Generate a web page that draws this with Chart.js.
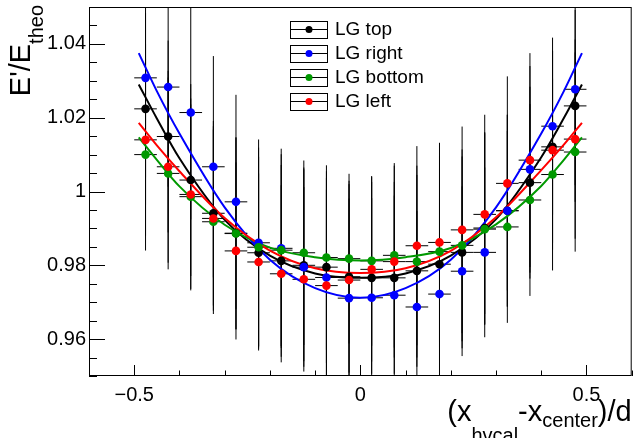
<!DOCTYPE html>
<html>
<head>
<meta charset="utf-8">
<script src="https://cdn.jsdelivr.net/npm/chart.js@4.4.0/dist/chart.umd.min.js"></script>
<style>
  html, body { margin: 0; padding: 0; background: #fff; }
  canvas { display: block; }
</style>
</head>
<body>
<canvas id="c" width="636" height="438"></canvas>
<script>
// Bin centres of (x_hvcal - x_center)/d and the half bin width
const binCenters = [-0.475, -0.425, -0.375, -0.325, -0.275, -0.225, -0.175, -0.125, -0.075, -0.025,
                     0.025,  0.075,  0.125,  0.175,  0.225,  0.275,  0.325,  0.375,  0.425,  0.475];
const binHalfWidth = 0.025;

// E'/E_theo per bin for each LG side
const lgTop    = [1.0224, 1.0149, 1.0031, 0.9941, 0.9887, 0.9834, 0.9812, 0.9800, 0.9795, 0.9769,
                  0.9766, 0.9766, 0.9785, 0.9803, 0.9835, 0.9901, 0.9948, 1.0024, 1.0121, 1.0232];
const lgRight  = [1.0308, 1.0283, 1.0214, 1.0067, 0.9972, 0.9861, 0.9846, 0.9795, 0.9767, 0.9711,
                  0.9712, 0.9719, 0.9687, 0.9722, 0.9784, 0.9835, 0.9948, 1.0060, 1.0177, 1.0277];
const lgBottom = [1.0100, 1.0049, 0.9986, 0.9918, 0.9886, 0.9849, 0.9841, 0.9834, 0.9821, 0.9818,
                  0.9812, 0.9827, 0.9810, 0.9837, 0.9854, 0.9898, 0.9904, 0.9977, 1.0046, 1.0107];
const lgLeft   = [1.0140, 1.0067, 0.9992, 0.9927, 0.9839, 0.9809, 0.9777, 0.9762, 0.9745, 0.9760,
                  0.9789, 0.9810, 0.9853, 0.9862, 0.9896, 0.9938, 1.0022, 1.0085, 1.0112, 1.0142];

// Vertical errors per bin
const errTop    = [0.026, 0.026, 0.026, 0.025, 0.026, 0.026, 0.026, 0.026, 0.026, 0.026,
                   0.026, 0.026, 0.026, 0.026, 0.026, 0.026, 0.026, 0.026, 0.026, 0.026];
const errRight  = [0.027, 0.027, 0.029, 0.030, 0.029, 0.028, 0.027, 0.027, 0.027, 0.027,
                   0.027, 0.027, 0.026, 0.026, 0.023, 0.023, 0.026, 0.028, 0.024, 0.026];
const errBottom = [0.026, 0.026, 0.025, 0.025, 0.026, 0.027, 0.026, 0.025, 0.025, 0.023,
                   0.023, 0.025, 0.026, 0.026, 0.026, 0.026, 0.026, 0.026, 0.026, 0.027];
const errLeft   = [0.026, 0.026, 0.026, 0.025, 0.024, 0.024, 0.024, 0.025, 0.026, 0.026,
                   0.025, 0.026, 0.027, 0.027, 0.028, 0.027, 0.029, 0.029, 0.027, 0.027];

// Fitted curves, sampled along x
const fitX      = [-0.49, -0.45, -0.4, -0.3, -0.2, -0.1, 0, 0.1, 0.2, 0.3, 0.4, 0.45, 0.49];
const fitTop    = [1.0290, 1.0198, 1.0090, 0.9923, 0.9826, 0.9778, 0.9766, 0.9778, 0.9826, 0.9925, 1.0093, 1.0199, 1.0290];
const fitRight  = [1.0375, 1.0272, 1.0157, 0.9957, 0.9815, 0.9738, 0.9712, 0.9738, 0.9815, 0.9957, 1.0157, 1.0272, 1.0375];
const fitBottom = [1.0147, 1.0086, 1.0014, 0.9910, 0.9848, 0.9822, 0.9813, 0.9822, 0.9847, 0.9911, 1.0015, 1.0086, 1.0147];
const fitLeft   = [1.0186, 1.0125, 1.0055, 0.9928, 0.9840, 0.9792, 0.9779, 0.9792, 0.9839, 0.9930, 1.0058, 1.0127, 1.0186];

// Axis ticks and labels
const xTickValues = [-0.5, 0, 0.5];
const xTickLabels = ['\u22120.5', '0', '0.5'];
const yTickValues = [0.96, 0.98, 1, 1.02, 1.04];
const yTickLabels = ['0.96', '0.98', '1', '1.02', '1.04'];

const seriesNames  = ['LG top', 'LG right', 'LG bottom', 'LG left'];
const seriesColors = ['#000000', '#0000ff', '#009900', '#ff0000'];

const FONT = '"Liberation Sans", Arial, Helvetica, sans-serif';

const series = [
  { name: seriesNames[0], color: seriesColors[0], values: lgTop,    errors: errTop,    fit: fitTop },
  { name: seriesNames[1], color: seriesColors[1], values: lgRight,  errors: errRight,  fit: fitRight },
  { name: seriesNames[2], color: seriesColors[2], values: lgBottom, errors: errBottom, fit: fitBottom },
  { name: seriesNames[3], color: seriesColors[3], values: lgLeft,   errors: errLeft,   fit: fitLeft }
];

const datasets = [];
series.forEach((s, k) => {
  datasets.push({
    label: s.name,
    isPoints: true,
    errors: s.errors,
    data: s.values.map((v, i) => ({ x: binCenters[i], y: v })),
    showLine: false,
    pointRadius: 4.3,
    pointBackgroundColor: s.color,
    pointBorderColor: s.color,
    pointBorderWidth: 0,
    order: 10 - k
  });
  datasets.push({
    label: s.name + ' fit',
    data: s.fit.map((v, i) => ({ x: fitX[i], y: v })),
    showLine: true,
    borderColor: s.color,
    borderWidth: 2,
    pointRadius: 0,
    cubicInterpolationMode: 'monotone',
    order: 20 - k
  });
});

// Error bars: horizontal bin width and vertical error, drawn in black
const errorBarPlugin = {
  id: 'errorBars',
  beforeDatasetsDraw(chart) {
    const { ctx, chartArea: a } = chart;
    const xs = chart.scales.x, ys = chart.scales.y;
    ctx.save();
    ctx.beginPath();
    ctx.rect(a.left, a.top, a.right - a.left, a.bottom - a.top);
    ctx.clip();
    ctx.strokeStyle = '#000';
    ctx.lineWidth = 1;
    chart.data.datasets.forEach(ds => {
      if (!ds.isPoints) return;
      ds.data.forEach((p, i) => {
        const px = xs.getPixelForValue(p.x);
        const py = ys.getPixelForValue(p.y);
        const xl = xs.getPixelForValue(p.x - binHalfWidth);
        const xr = xs.getPixelForValue(p.x + binHalfWidth);
        const yt = ys.getPixelForValue(p.y + ds.errors[i]);
        const yb = ys.getPixelForValue(p.y - ds.errors[i]);
        ctx.beginPath();
        ctx.moveTo(xl, py); ctx.lineTo(xr, py);
        ctx.moveTo(px, yt); ctx.lineTo(px, yb);
        ctx.stroke();
      });
    });
    ctx.restore();
  }
};

// Frame with inward ticks, axis titles and the legend box
const framePlugin = {
  id: 'frame',
  afterDraw(chart) {
    const { ctx, chartArea: a } = chart;
    const xs = chart.scales.x, ys = chart.scales.y;
    ctx.save();
    ctx.strokeStyle = '#000';
    ctx.lineWidth = 1;
    ctx.strokeRect(a.left + 0.5, a.top + 0.5, a.right - a.left - 1, a.bottom - a.top - 1);

    // y ticks: minor every 0.005, major at labelled values
    ctx.beginPath();
    for (let k = 0; k <= 20; k++) {
      const v = ys.min + k * 0.005;
      const major = yTickValues.some(t => Math.abs(t - v) < 1e-9);
      const py = Math.round(ys.getPixelForValue(v)) + 0.5;
      ctx.moveTo(a.left, py);
      ctx.lineTo(a.left + (major ? 16 : 8), py);
    }
    // x ticks: minor every 0.1, major at labelled values
    for (let k = 0; k <= 12; k++) {
      const v = xs.min + k * 0.1;
      const major = xTickValues.some(t => Math.abs(t - v) < 1e-9);
      const px = Math.round(xs.getPixelForValue(v)) + 0.5;
      ctx.moveTo(px, a.bottom);
      ctx.lineTo(px, a.bottom - (major ? 11 : 5.5));
    }
    ctx.stroke();

    ctx.fillStyle = '#000';
    ctx.textBaseline = 'alphabetic';

    // x title: (x_hvcal-x_center)/d, right aligned to the frame
    const mainF = '29px ' + FONT, subF = '20px ' + FONT;
    const parts = [
      { t: '(', f: mainF, dy: 0 },
      { t: 'x', f: mainF, dy: 0 },
      { t: 'hvcal', f: subF, dy: 21 },
      { t: '-', f: mainF, dy: 0 },
      { t: 'x', f: mainF, dy: 0 },
      { t: 'center', f: subF, dy: 6 },
      { t: ')/d', f: mainF, dy: 0 }
    ];
    let total = 0;
    parts.forEach(p => { ctx.font = p.f; p.w = ctx.measureText(p.t).width; total += p.w; });
    let cx = a.right - total;
    const base = 421;
    parts.forEach(p => { ctx.font = p.f; ctx.fillText(p.t, cx, base + p.dy); cx += p.w; });

    // y title: E'/E_theo, rotated, ending near the top
    ctx.save();
    ctx.translate(30, 5);
    ctx.rotate(-Math.PI / 2);
    ctx.textAlign = 'right';
    ctx.font = subF;
    const wSub = ctx.measureText('theo').width;
    ctx.fillText('theo', 0, 13);
    ctx.font = mainF;
    ctx.fillText("E'/E", -wSub, 0);
    ctx.restore();

    // legend
    const lx = 290, lw = 37, lh = 17, ly0 = 29, lstep = 24;
    let row = 0;
    chart.data.datasets.forEach(ds => {
      if (!ds.isPoints) return;
      const cy = ly0 + row * lstep;
      ctx.strokeStyle = '#000';
      ctx.lineWidth = 1;
      ctx.strokeRect(lx + 0.5, Math.round(cy - lh / 2) + 0.5, lw, lh);
      ctx.beginPath();
      ctx.moveTo(lx, Math.round(cy) + 0.5);
      ctx.lineTo(lx + lw + 1, Math.round(cy) + 0.5);
      ctx.stroke();
      ctx.fillStyle = ds.pointBackgroundColor;
      ctx.beginPath();
      ctx.arc(lx + lw / 2 + 0.5, Math.round(cy) + 0.5, 3.5, 0, Math.PI * 2);
      ctx.fill();
      ctx.fillStyle = '#000';
      ctx.font = '19px ' + FONT;
      ctx.textAlign = 'left';
      ctx.textBaseline = 'middle';
      ctx.fillText(ds.label, lx + 45, cy + 1);
      row++;
    });
    ctx.restore();
  }
};

new Chart(document.getElementById('c'), {
  type: 'scatter',
  data: { datasets },
  options: {
    responsive: false,
    animation: false,
    devicePixelRatio: 1,
    layout: { padding: { top: 7, right: 2, left: 0, bottom: 0 } },
    plugins: { legend: { display: false }, tooltip: { enabled: false } },
    scales: {
      x: {
        type: 'linear', min: -0.6, max: 0.6,
        grid: { display: false, drawTicks: false },
        border: { display: false },
        afterBuildTicks: s => { s.ticks = xTickValues.map(v => ({ value: v })); },
        afterFit: s => { s.height = 62; s.paddingLeft = 0; s.paddingRight = 0; },
        ticks: {
          autoSkip: false, maxRotation: 0, padding: 7, color: '#000',
          font: { family: FONT, size: 20 },
          callback: v => xTickLabels[xTickValues.findIndex(t => Math.abs(t - v) < 1e-9)]
        }
      },
      y: {
        type: 'linear', min: 0.95, max: 1.05,
        grid: { display: false, drawTicks: false },
        border: { display: false },
        afterBuildTicks: s => { s.ticks = yTickValues.map(v => ({ value: v })); },
        afterFit: s => { s.width = 89; s.paddingTop = 0; s.paddingBottom = 0; },
        ticks: {
          autoSkip: false, padding: 3, color: '#000',
          font: { family: FONT, size: 20 },
          callback: v => yTickLabels[yTickValues.findIndex(t => Math.abs(t - v) < 1e-9)]
        }
      }
    }
  },
  plugins: [errorBarPlugin, framePlugin]
});
</script>
</body>
</html>
